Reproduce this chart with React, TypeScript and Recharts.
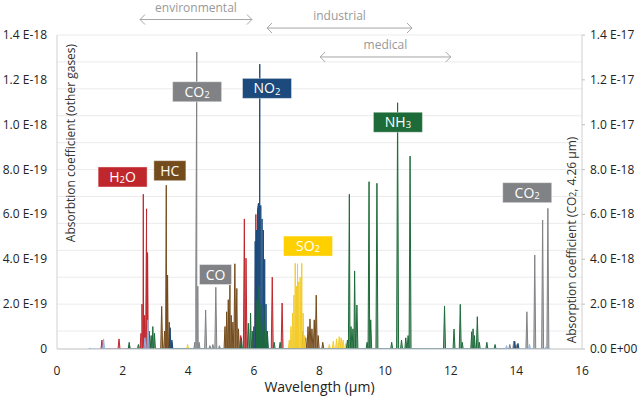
import React from 'react';
import {
  ComposedChart,
  Area,
  XAxis,
  YAxis,
  CartesianGrid,
  ReferenceLine,
  ReferenceDot,
  Customized,
} from 'recharts';

// ---- axis ticks ----
const xTicks = [0, 2, 4, 6, 8, 10, 12, 14, 16];
const yTicks = [0, 2, 4, 6, 8, 10, 12, 14]; // left: x1E-19, right: x1E-18
const gridValues = Array.from({ length: 36 }, (_, i) => +(i * 0.4).toFixed(1));

// ---- series (wavelength in µm, absorption: left axis in 1E-19, right axis in 1E-18) ----
const h2oWavelength = [1.37, 1.89, 2.2, 2.56, 2.59, 2.63, 2.67, 2.73, 2.76, 2.81, 5.6, 5.71, 5.76, 5.96, 6.06, 6.56, 6.86, 7.29];
const h2oAbsorption = [0.4, 0.45, 0.15, 0.7, 2.0, 6.9, 1.5, 6.25, 4.3, 0.8, 0.6, 5.8, 4.05, 0.5, 6.0, 3.2, 2.05, 0.3];

const hcWavelength = [3.19, 3.28, 3.33, 3.37, 3.42, 3.5, 5.12, 5.17, 5.22, 5.27, 5.31, 5.36, 5.42, 5.48, 5.53, 7.5, 7.58, 7.65, 7.71, 7.77, 7.84, 7.9, 7.96, 8.1];
const hcAbsorption = [1.9, 0.8, 7.3, 3.3, 1.2, 0.3, 1.0, 1.66, 2.2, 2.85, 1.5, 1.2, 3.8, 2.7, 0.9, 0.8, 0.5, 1.0, 1.34, 0.9, 1.3, 2.4, 0.6, 0.3];

const co2Wavelength = [4.2, 4.23, 4.26, 4.29, 4.33, 13.8, 13.92, 14.02, 14.32, 14.56, 14.8, 14.96];
const co2Absorption = [0.3, 2.9, 13.24, 2.8, 0.3, 0.2, 0.35, 0.2, 1.66, 4.19, 5.75, 6.27];

const coWavelength = [4.53, 4.66, 4.75, 4.84, 4.95];
const coAbsorption = [1.74, 0.15, 0.2, 2.75, 0.15];

const no2Wavelength = [3.45, 3.5, 6.0, 6.04, 6.08, 6.11, 6.14, 6.18, 6.21, 6.25, 6.29, 6.33, 6.37, 6.41, 13.95, 14.05];
const no2Absorption = [0.95, 0.4, 1.0, 4.8, 5.3, 6.2, 6.5, 12.7, 6.4, 5.8, 5.3, 4.0, 2.0, 0.8, 0.35, 0.25];

const so2Wavelength = [3.98, 7.08, 7.13, 7.18, 7.22, 7.26, 7.3, 7.33, 7.37, 7.41, 7.46, 7.5, 7.55, 8.3, 8.42, 8.52, 8.6, 8.66, 8.72, 8.8];
const so2Absorption = [0.2, 0.4, 1.0, 1.6, 2.4, 3.82, 2.8, 3.8, 3.0, 3.2, 3.82, 1.6, 0.6, 0.2, 0.35, 0.45, 0.55, 0.5, 0.4, 0.25];

const nh3Wavelength = [2.2, 2.48, 2.87, 2.92, 2.97, 5.62, 5.83, 5.9, 5.95, 6.1, 6.16, 6.22, 6.3, 6.4, 6.62, 6.8, 8.85, 8.91, 8.96, 9.02, 9.07, 9.14, 9.45, 9.51, 9.56, 9.75, 10.2, 10.38, 10.5, 10.63, 10.7, 10.76, 11.81, 12.1, 12.29, 12.35, 12.64, 12.68, 12.72, 12.81, 12.87, 13.1, 13.35];
const nh3Absorption = [0.3, 0.2, 0.6, 1.0, 0.7, 0.5, 1.15, 1.6, 0.8, 2.2, 2.8, 2.0, 1.8, 0.8, 0.3, 0.3, 0.4, 6.9, 1.0, 0.9, 3.48, 1.96, 0.3, 7.46, 1.3, 7.39, 0.3, 10.98, 0.4, 0.5, 0.6, 8.6, 1.92, 0.89, 1.99, 0.3, 0.77, 0.9, 0.6, 1.44, 0.3, 0.3, 0.2];

const otherWavelength = [1.0, 1.42, 2.68, 2.77, 13.7, 14.4, 14.9, 15.0];
const otherAbsorption = [0.05, 0.45, 0.5, 1.3, 0.15, 0.2, 0.1, 0.05];

// ---- label anchors (data coordinates) ----
const gasLabelNames = ['H2O', 'HC', 'CO2', 'NO2', 'CO', 'SO2', 'NH3', 'CO2'];
const gasLabelX = [2.0, 3.44, 4.27, 6.4, 4.83, 7.65, 10.39, 14.33];
const gasLabelY = [7.67, 7.95, 11.47, 11.62, 3.32, 4.59, 10.11, 6.97];

const rangeNames = ['environmental', 'industrial', 'medical'];
const rangeStart = [2.53, 6.4, 8.02];
const rangeEnd = [5.94, 10.82, 12.0];
const rangeLevel = [14.69, 14.31, 13.02];

const COLORS: Record<string, string> = {
  H2O: '#C0272D',
  HC: '#744B1C',
  CO2: '#808285',
  CO: '#808285',
  NO2: '#1C4A7C',
  SO2: '#FFD000',
  NH3: '#1E6B3A',
  other: '#8DB3E2',
};

const FONT = '"Open Sans", "Noto Sans", sans-serif';

function spikes(wl: number[], ab: number[], half = 0.03) {
  const pts: { x: number; y: number }[] = [];
  wl.forEach((w, i) => {
    pts.push({ x: w - half, y: 0 }, { x: w, y: ab[i] }, { x: w + half, y: 0 });
  });
  pts.sort((a, b) => a.x - b.x);
  return pts;
}

function Formula({ text, size }: { text: string; size: number }) {
  const parts = text.match(/[A-Za-z]+|\d+/g) || [];
  return (
    <>
      {parts.map((p, i) => {
        const isNum = /^\d+$/.test(p);
        const prevNum = i > 0 && /^\d+$/.test(parts[i - 1]);
        return (
          <tspan
            key={i}
            fontSize={isNum ? size * 0.68 : size}
            dy={isNum ? size * 0.08 : prevNum ? -size * 0.08 : 0}
          >
            {p}
          </tspan>
        );
      })}
    </>
  );
}

const gasBox = (name: string) => (p: any) => {
  const { cx, cy } = p;
  const w = name.length <= 2 ? 32 : 49;
  const h = 20;
  const fill = COLORS[name];
  return (
    <g>
      <rect x={cx - w / 2} y={cy - h / 2} width={w} height={h} fill={fill} stroke="#ffffff" strokeOpacity={0.4} strokeWidth={1} />
      <text x={cx} y={cy + 5} textAnchor="middle" fill="#ffffff" fontFamily={FONT} fontSize={14}>
        <Formula text={name} size={14} />
      </text>
    </g>
  );
};

const rangeArrow = (label: string) => (p: any) => {
  const { x1, y1, x2, y2 } = p;
  const c = '#A6A6A6';
  return (
    <g>
      <line x1={x1} y1={y1} x2={x2} y2={y2} stroke={c} strokeWidth={1} />
      <polyline points={`${x1 + 5},${y1 - 5} ${x1},${y1} ${x1 + 5},${y1 + 5}`} fill="none" stroke={c} strokeWidth={1} />
      <polyline points={`${x2 - 5},${y2 - 5} ${x2},${y2} ${x2 - 5},${y2 + 5}`} fill="none" stroke={c} strokeWidth={1} />
      <text x={(x1 + x2) / 2} y={y1 - 8} textAnchor="middle" fill="#999999" fontFamily={FONT} fontSize={12}>
        {label}
      </text>
    </g>
  );
};

const AxisTitles = () => (
  <g fontFamily={FONT} fontSize={12} fill="#333333">
    <text x={70} y={143} transform="rotate(-90, 70, 143)" textAnchor="middle" dominantBaseline="central">
      Absorbtion coefficient (other gases)
    </text>
    <text x={571} y={240} transform="rotate(-90, 571, 240)" textAnchor="middle" dominantBaseline="central">
      Absorption coefficient (CO<tspan fontSize={8.5} dy={1}>2</tspan><tspan dy={-1}>, 4.26 µm)</tspan>
    </text>
  </g>
);

const leftFmt = (v: number) => (v === 0 ? '0' : v >= 10 ? `${(v / 10).toFixed(1)} E-18` : `${v.toFixed(1)} E-19`);
const rightFmt = (v: number) => (v === 0 ? '0.0 E+00' : v >= 10 ? `${(v / 10).toFixed(1)} E-17` : `${v.toFixed(1)} E-18`);

const LeftTick = (p: any) => (
  <text x={p.x} y={p.y} dy={4} textAnchor="end" fontFamily={FONT} fontSize={12} fill="#222">
    {leftFmt(p.payload.value)}
  </text>
);
const RightTick = (p: any) => (
  <text x={p.x} y={p.y} dy={4} textAnchor="start" fontFamily={FONT} fontSize={12} fill="#222">
    {rightFmt(p.payload.value)}
  </text>
);

const seriesList = [
  { key: 'co2', axis: 'R', color: COLORS.CO2, data: spikes(co2Wavelength, co2Absorption) },
  { key: 'co', axis: 'L', color: COLORS.CO, data: spikes(coWavelength, coAbsorption) },
  { key: 'h2o', axis: 'L', color: COLORS.H2O, data: spikes(h2oWavelength, h2oAbsorption) },
  { key: 'hc', axis: 'L', color: COLORS.HC, data: spikes(hcWavelength, hcAbsorption) },
  { key: 'so2', axis: 'L', color: '#F3CC2C', data: spikes(so2Wavelength, so2Absorption) },
  { key: 'no2', axis: 'L', color: COLORS.NO2, data: spikes(no2Wavelength, no2Absorption) },
  { key: 'nh3', axis: 'L', color: COLORS.NH3, data: spikes(nh3Wavelength, nh3Absorption) },
  { key: 'other', axis: 'L', color: COLORS.other, data: spikes(otherWavelength, otherAbsorption) },
];

export default function App() {
  return (
    <div style={{ position: 'absolute', left: 0, top: 0, width: 640, height: 396, background: '#fff' }}>
      <ComposedChart width={640} height={396} margin={{ top: 35, right: 0, bottom: 0, left: 0 }}>
        <CartesianGrid yAxisId="L" vertical={false} horizontalValues={gridValues} stroke="#EBEBEB" />
        <XAxis
          dataKey="x"
          type="number"
          domain={[0, 16]}
          ticks={xTicks}
          height={47}
          tickLine={false}
          tickMargin={11}
          axisLine={{ stroke: '#BFBFBF' }}
          tick={{ fontSize: 12, fill: '#222', fontFamily: FONT }}
          allowDataOverflow
          label={{ value: 'Wavelength (µm)', position: 'insideBottom', offset: 4, fontSize: 14, fill: '#222', fontFamily: FONT }}
        />
        <YAxis
          yAxisId="L"
          width={57}
          domain={[0, 14]}
          ticks={yTicks}
          tickLine={false}
          tickMargin={4}
          axisLine={{ stroke: '#D0D0D0' }}
          tick={LeftTick}
          allowDataOverflow
        />
        <YAxis
          yAxisId="R"
          orientation="right"
          width={58}
          domain={[0, 14]}
          ticks={yTicks}
          tickSize={3}
          tickMargin={5}
          tickLine={{ stroke: '#BFBFBF' }}
          axisLine={{ stroke: '#D0D0D0' }}
          tick={RightTick}
          allowDataOverflow
        />
        {seriesList.map((s) => (
          <Area
            key={s.key}
            yAxisId={s.axis}
            data={s.data}
            dataKey="y"
            type="linear"
            stroke={s.color}
            strokeWidth={1}
            fill={s.color}
            fillOpacity={0.55}
            isAnimationActive={false}
            dot={false}
            activeDot={false}
          />
        ))}
        {rangeNames.map((n, i) => (
          <ReferenceLine
            key={n}
            yAxisId="L"
            ifOverflow="visible"
            segment={[
              { x: rangeStart[i], y: rangeLevel[i] },
              { x: rangeEnd[i], y: rangeLevel[i] },
            ]}
            shape={rangeArrow(n)}
          />
        ))}
        {gasLabelNames.map((n, i) => (
          <ReferenceDot
            key={`${n}-${i}`}
            yAxisId="L"
            x={gasLabelX[i]}
            y={gasLabelY[i]}
            r={0}
            ifOverflow="visible"
            shape={gasBox(n)}
          />
        ))}
        <Customized component={<AxisTitles />} />
      </ComposedChart>
    </div>
  );
}
